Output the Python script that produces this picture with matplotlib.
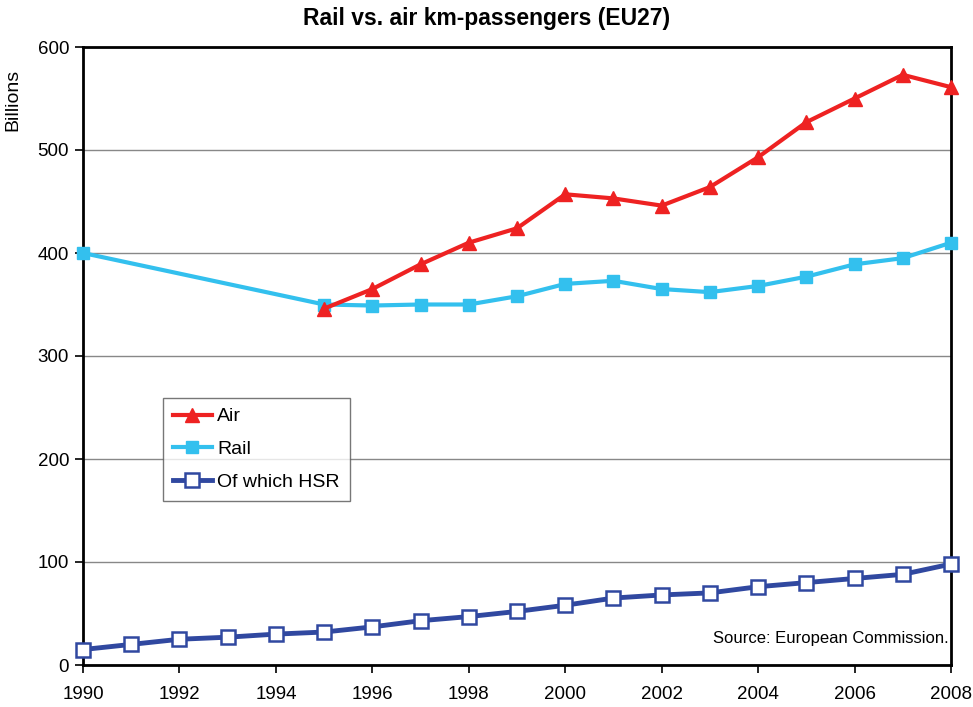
import matplotlib
matplotlib.use("Agg")
import matplotlib.pyplot as plt

plt.rcParams['font.family'] = ['Liberation Sans', 'DejaVu Sans']

years_air = list(range(1995, 2009))
air = [346, 365, 389, 410, 424, 457, 453, 446, 464, 493, 527, 550, 573, 561]

years_rail = [1990] + list(range(1995, 2009))
rail = [400, 350, 349, 350, 350, 358, 370, 373, 365, 362, 368, 377, 389, 395, 410]

years_hsr = list(range(1990, 2009))
hsr = [15, 20, 25, 27, 30, 32, 37, 43, 47, 52, 58, 65, 68, 70, 76, 80, 84, 88, 98]

xticks = list(range(1990, 2009, 2))
yticks = [0, 100, 200, 300, 400, 500, 600]

fig = plt.figure(figsize=(9.73, 7.07), dpi=100)
ax = fig.add_axes([83/973, 42/707, (951-83)/973, (665-47)/707])

ax.plot(years_air, air, color='#ee2222', lw=3, marker='^', ms=10, label='Air', zorder=4)
ax.plot(years_rail, rail, color='#33c0ee', lw=3, marker='s', ms=9, label='Rail', zorder=3)
ax.plot(years_hsr, hsr, color='#3048a0', lw=3.5, marker='s', ms=9.5, mfc='white',
        mec='#3048a0', mew=1.8, label='Of which HSR', zorder=3)

ax.set_xlim(1990, 2008)
ax.set_ylim(0, 600)
ax.set_xticks(xticks)
ax.set_yticks(yticks)
ax.tick_params(axis='both', labelsize=13.5, direction='out', length=6, width=1.2)
ax.tick_params(axis='y', pad=4)
ax.tick_params(axis='x', pad=9)
ax.yaxis.grid(True, color='#888888', lw=1)
ax.set_axisbelow(True)
for s in ax.spines.values():
    s.set_linewidth(2)
    s.set_clip_on(False)
for ln in ax.lines:
    ln.set_clip_on(False)

fig.text(0.5, 1 - 19/707, 'Rail vs. air km-passengers (EU27)', ha='center', va='center',
         fontsize=16.5, fontweight='bold')
fig.text(13/973, 1 - 100/707, 'Billions', rotation=90, ha='center', va='center', fontsize=14)
ax.text(0.997, 0.03, 'Source: European Commission.', transform=ax.transAxes,
        ha='right', va='bottom', fontsize=12)

leg = ax.legend(loc='upper left', bbox_to_anchor=((163-83)/868, (665-398)/618),
                frameon=True, fancybox=False, edgecolor='#555555', fontsize=14,
                handlelength=2.0, handletextpad=0.3, borderpad=0.5, labelspacing=0.78,
                borderaxespad=0)
leg.get_frame().set_linewidth(1)

fig.savefig('out.png', dpi=100)
